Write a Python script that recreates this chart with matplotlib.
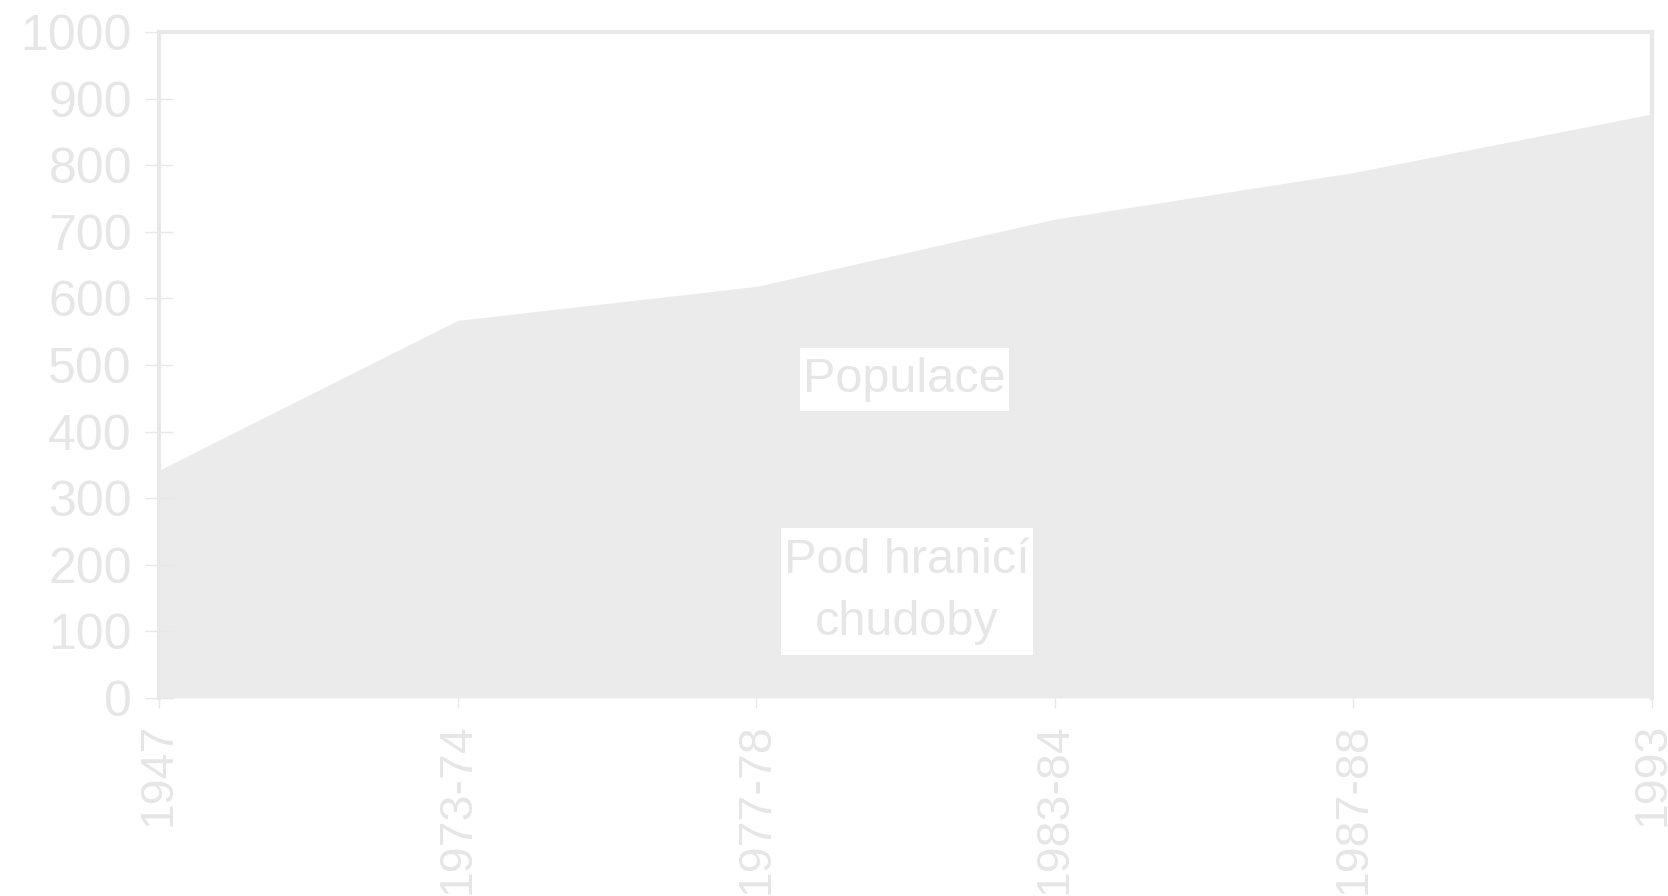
import matplotlib
matplotlib.use("Agg")
import matplotlib.pyplot as plt
from matplotlib.patches import Rectangle
from matplotlib.transforms import IdentityTransform

plt.rcParams['font.family'] = ['Liberation Sans', 'DejaVu Sans']

categories = ["1947", "1973-74", "1977-78", "1983-84", "1987-88", "1993"]
populace = [342, 567, 618, 719, 789, 877]
yticks = [0, 100, 200, 300, 400, 500, 600, 700, 800, 900, 1000]
label_populace = "Populace"
label_chudoba = "Pod hranicí\nchudoby"

fill_color = "#EBEBEB"
line_color = "#E8E8E8"
text_color = "#E6E6E6"
DPI = 100
FS = 35

fig = plt.figure(figsize=(16.68, 8.96), dpi=DPI)
ax = fig.add_axes([159/1668, 1 - 698/896, (1652 - 159)/1668, (698 - 32)/896])

x = list(range(len(categories)))
ax.fill_between(x, 0, populace, color=fill_color, linewidth=0, zorder=1)

ax.set_xlim(0, len(categories) - 1)
ax.set_ylim(0, 1000)
ax.set_yticks(yticks)
ax.set_yticklabels([str(v) for v in yticks])
ax.set_xticks(x)
ax.set_xticklabels(categories, rotation=90)

for s in ax.spines.values():
    s.set_color(line_color)
    s.set_linewidth(3.0)
    s.set_zorder(0.5)
ax.spines['bottom'].set_visible(False)

ax.tick_params(axis='y', direction='inout', length=20, width=1.0, color=line_color,
               labelcolor=text_color, labelsize=36, pad=9.5)
ax.tick_params(axis='x', direction='out', length=7, width=1.0, color=line_color,
               labelcolor=text_color, labelsize=33.5, pad=11)

texts = []
t1 = ax.text(2.497, 478, label_populace, fontsize=FS, color=text_color, ha='center',
             va='center', zorder=3)
texts.append((t1, 1))
t2 = ax.text(2.505, 160, label_chudoba, fontsize=FS, color=text_color, ha='center',
             va='center', linespacing=1.5, zorder=3)
texts.append((t2, 2))

fig.canvas.draw()
renderer = fig.canvas.get_renderer()
fs_px = FS * DPI / 72.0
for t, n in texts:
    bb = t.get_window_extent(renderer)
    cx, cy = ax.transData.transform(t.get_position())
    w = bb.width + 6
    h = n * 1.3 * fs_px
    rect = Rectangle((cx - w / 2, cy - h / 2), w, h, transform=IdentityTransform(),
                     facecolor='white', edgecolor='none', zorder=2.5)
    ax.add_artist(rect)

fig.savefig("out.png", dpi=DPI, facecolor='white')
